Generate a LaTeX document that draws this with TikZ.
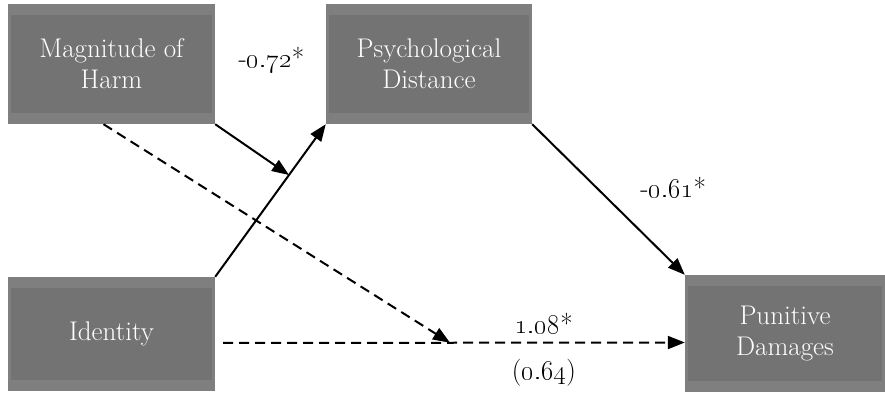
\documentclass[tikz,border=0pt]{standalone}
\usepackage{fix-cm}
\usepackage{tikz}
\usetikzlibrary{arrows.meta,positioning,calc}
\definecolor{boxouter}{RGB}{127,127,127}
\definecolor{boxinner}{RGB}{115,115,115}

\begin{document}
\begin{tikzpicture}[
  x=1pt, y=-1pt,
  font=\fontsize{27}{31}\selectfont,
  >={Triangle[length=17pt,width=13pt]},
  var/.style={rectangle, fill=boxouter, text=white, align=center, inner sep=0pt, minimum width=207pt, minimum height=120pt,
    path picture={\fill[boxinner] ([shift={(3pt,-11pt)}]path picture bounding box.north west) rectangle ([shift={(-3pt,11pt)}]path picture bounding box.south east);}},
  lnk/.style={line width=2pt},
  dsh/.style={line width=2pt, dash pattern=on 10pt off 6pt},
  coef/.style={font=\fontsize{27}{31}\selectfont, inner sep=2pt},
]
\useasboundingbox (0,0) rectangle (885,393);
\node[var] (harm) at (111.5,64) {Magnitude of\\Harm};
\node[var, minimum width=206pt] (psych) at (429,64) {Psychological\\Distance};
\node[var, minimum height=114pt] (ident) at (111.5,334) {Identity};
\node[var, minimum width=200pt, minimum height=117pt] (punit) at (785,333.5) {Punitive\\Damages};
\node[coef] (lblharm) at ($(harm.east)!0.5!(psych.west)+(1,-4)$) {-\oldstylenums{0.72}*};
\coordinate (hit) at ($(ident.north east)!0.667!(psych.south west)$);
\coordinate (idout) at ([yshift=-9pt]ident.east);
\coordinate (pdin) at ([yshift=-9pt]punit.west);
\coordinate (mid) at ($(idout)!0.5!(pdin)$);
\draw[->, lnk] (ident.north east) -- (psych.south west);
\draw[->, lnk] (harm.south east) -- (hit);
\draw[->, lnk] (psych.south east) -- node[coef, pos=0.42, xshift=77pt] {-\oldstylenums{0.61}*} (punit.north west);
\draw[->, dsh] ([xshift=-8pt]harm.south) -- (mid);
\draw[->, dsh, shorten <=8pt] (idout) -- node[coef, pos=0.7, above=6pt] {\oldstylenums{1.08}*} node[coef, pos=0.7, below=14pt] {(\oldstylenums{0.64})} (pdin);
\end{tikzpicture}
\end{document}
